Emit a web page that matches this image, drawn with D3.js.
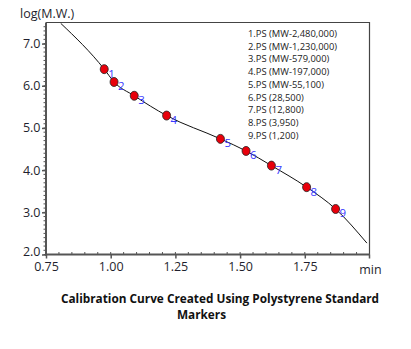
<!DOCTYPE html>
<html><head><meta charset="utf-8">
<script src="https://cdn.jsdelivr.net/npm/d3@7"></script>
<style>body{margin:0;background:#fff}svg{display:block}text{font-family:"Open Sans",sans-serif}</style>
</head><body><svg id="c" width="411" height="349"></svg>
<script>
const pointLabels = ["1","2","3","4","5","6","7","8","9"];
const pointTimes  = [0.975, 1.013, 1.091, 1.216, 1.424, 1.523, 1.621, 1.757, 1.869];
const pointLogMW  = [6.394, 6.090, 5.763, 5.294, 4.741, 4.455, 4.107, 3.597, 3.079];
const curveTimes  = [0.807, 0.975, 1.013, 1.091, 1.216, 1.424, 1.523, 1.621, 1.757, 1.869, 1.990];
const curveLogMW  = [7.48, 6.394, 6.090, 5.763, 5.294, 4.741, 4.455, 4.107, 3.597, 3.079, 2.27];
const legendLines = ["1.PS (MW-2,480,000)","2.PS (MW-1,230,000)","3.PS (MW-579,000)","4.PS (MW-197,000)","5.PS (MW-55,100)","6.PS (28,500)","7.PS (12,800)","8.PS (3,950)","9.PS (1,200)"];
const xTicks = [0.75, 1.00, 1.25, 1.50, 1.75];
const yTicks = [2.0, 3.0, 4.0, 5.0, 6.0, 7.0];
const titleLines = ["Calibration Curve Created Using Polystyrene Standard", "Markers"];

const svg = d3.select("#c");
const L = 46, R = 369.5, T = 22.5, B = 254.5;
const x = d3.scaleLinear().domain([0.75, 2.0]).range([L, R]);
const y = d3.scaleLinear().domain([2.0, 7.5]).range([B, T]);
const axisCol = "#555", txtCol = "#1f1f2e";

svg.append("path").attr("d", `M${L},${T}H${R}V${B}`).attr("fill","none").attr("stroke","#444").attr("stroke-width",1.2);

const yMinor = d3.range(20, 75).map(d => d/10);
svg.append("g").selectAll("line").data(yMinor).join("line")
  .attr("x1", L-2.5).attr("x2", L).attr("y1", d=>y(d)).attr("y2", d=>y(d))
  .attr("stroke", axisCol).attr("stroke-width",1);
const xMinor = d3.range(15, 40).map(d => d/20);
svg.append("g").selectAll("line").data(xMinor).join("line")
  .attr("x1", d=>x(d)).attr("x2", d=>x(d)).attr("y1", B-2.5).attr("y2", B)
  .attr("stroke", axisCol).attr("stroke-width",1);

const gy = svg.append("g").attr("transform",`translate(${L},0)`)
  .call(d3.axisLeft(y).tickValues(yTicks).tickFormat(d3.format(".1f")).tickSize(4).tickSizeOuter(0));
gy.select(".domain").attr("stroke", axisCol).attr("stroke-width",2).attr("d", `M0,${T}V${B+1}`);
gy.selectAll(".tick line").attr("stroke", axisCol).attr("stroke-width",1.5);
gy.selectAll(".tick text").attr("fill", txtCol).attr("font-size",12.5).attr("x",-5.5).attr("font-family","Open Sans")
  .attr("dy", d => d === 2.0 ? "0.1em" : "0.32em");

const gx = svg.append("g").attr("transform",`translate(0,${B})`)
  .call(d3.axisBottom(x).tickValues(xTicks).tickFormat(d3.format(".2f")).tickSize(4).tickSizeOuter(0));
gx.select(".domain").attr("stroke", axisCol).attr("stroke-width",2).attr("d", `M${L-1},0H${R+0.5}`);
gx.selectAll(".tick line").attr("stroke", axisCol).attr("stroke-width",1.5);
gx.selectAll(".tick text").attr("fill", txtCol).attr("font-size",12.5).attr("y",8).attr("font-family","Open Sans");
svg.append("line").attr("x1",R).attr("x2",R).attr("y1",B).attr("y2",B+4).attr("stroke",axisCol).attr("stroke-width",1.5);

svg.append("text").attr("x", R+1).attr("y", B+19).attr("text-anchor","middle").attr("font-size",12.5).attr("fill",txtCol).text("min");
svg.append("text").attr("x", 20).attr("y", 18).attr("font-size",12.5).attr("fill",txtCol).text("log(M.W.)");

const curveData = curveTimes.map((t,i)=>[t, curveLogMW[i]]);
svg.append("path").datum(curveData)
  .attr("d", d3.line().x(d=>x(d[0])).y(d=>y(d[1])).curve(d3.curveMonotoneX))
  .attr("fill","none").attr("stroke","#111").attr("stroke-width",1);

const pts = pointTimes.map((t,i)=>({t, v: pointLogMW[i], lab: pointLabels[i]}));
svg.append("g").selectAll("ellipse").data(pts).join("ellipse")
  .attr("cx", d=>x(d.t)).attr("cy", d=>y(d.v)).attr("rx",4).attr("ry",4.5)
  .attr("fill","#e8000b").attr("stroke","#222").attr("stroke-width",0.8);
svg.append("g").selectAll("text").data(pts).join("text")
  .attr("x", d=>x(d.t)+4).attr("y", d=>y(d.v)+8.5).attr("font-size",11.5).attr("fill","#3a3aff").text(d=>d.lab);

svg.append("g").selectAll("text").data(legendLines).join("text")
  .attr("x", 248).attr("y", (d,i)=>37 + i*12.7).attr("font-size",9.4).attr("fill","#222").text(d=>d);

svg.append("text").attr("x", 220).attr("y", 303).attr("text-anchor","middle").attr("font-size",11.8).attr("font-weight","bold").attr("fill","#111").text(titleLines[0]);
svg.append("text").attr("x", 201.5).attr("y", 318.5).attr("text-anchor","middle").attr("font-size",11.8).attr("font-weight","bold").attr("fill","#111").text(titleLines[1]);
</script></body></html>
